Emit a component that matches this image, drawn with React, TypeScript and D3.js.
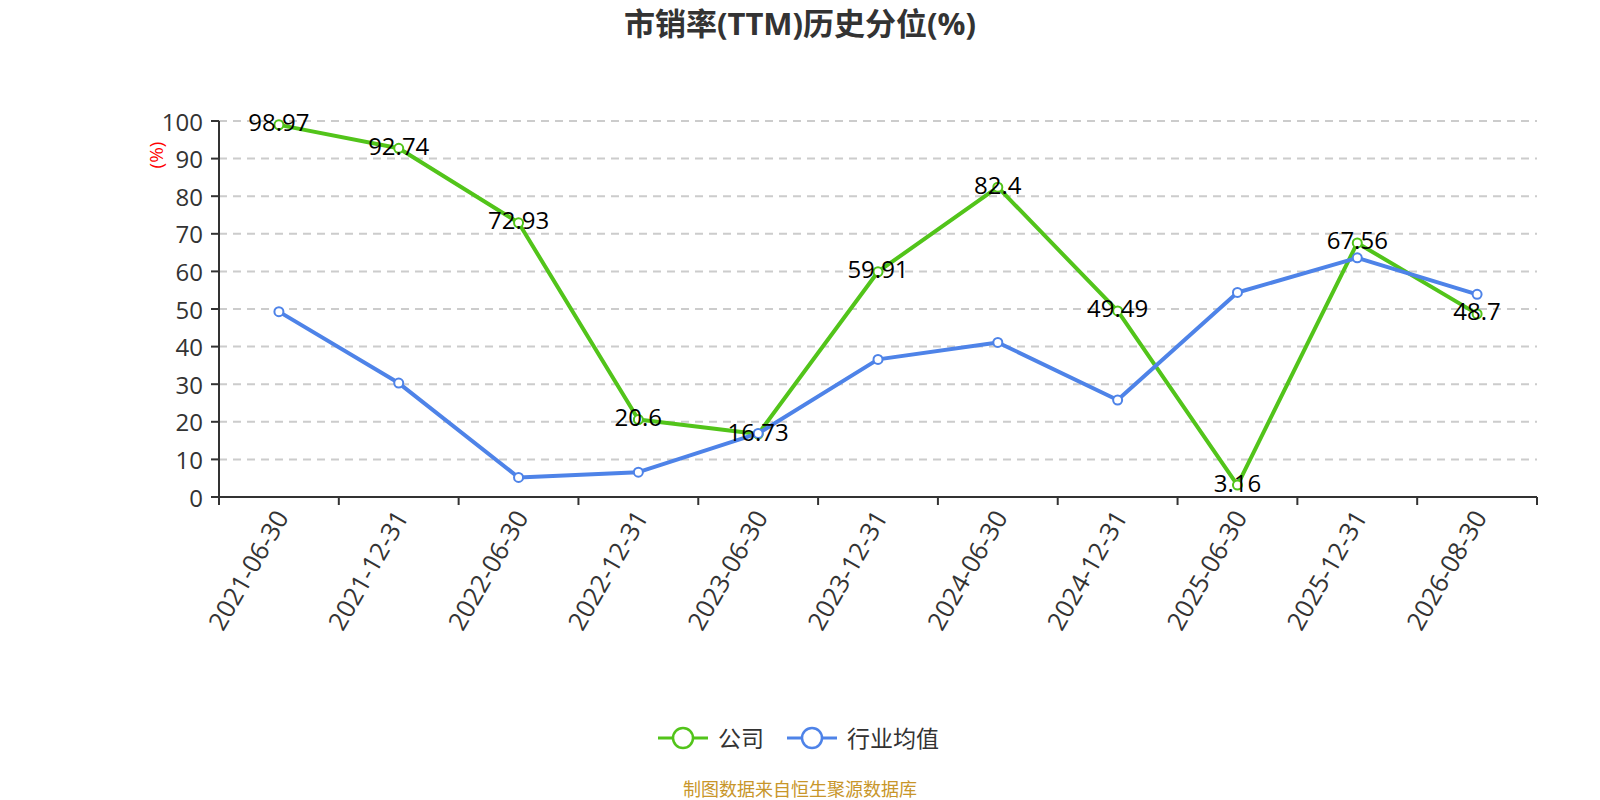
import { useRef, useEffect } from 'react';
import * as d3 from 'd3';

const categories = [
  '2021-06-30', '2021-12-31', '2022-06-30', '2022-12-31', '2023-06-30', '2023-12-31',
  '2024-06-30', '2024-12-31', '2025-06-30', '2025-12-31', '2026-08-30',
];
const companyValues = [98.97, 92.74, 72.93, 20.6, 16.73, 59.91, 82.4, 49.49, 3.16, 67.56, 48.7];
const industryValues = [49.3, 30.3, 5.2, 6.6, 16.9, 36.6, 41.1, 25.8, 54.4, 63.6, 53.9];
const yTicks = [0, 10, 20, 30, 40, 50, 60, 70, 80, 90, 100];
const seriesNames = ['公司', '行业均值'];
const seriesColors = ['#52c41a', '#4e83e8'];

const FONT = '"Open Sans", "Noto Sans CJK SC", sans-serif';

export default function App() {
  const svgRef = useRef<SVGSVGElement>(null);

  useEffect(() => {
    if (!svgRef.current) return;
    const svg = d3.select(svgRef.current);
    svg.selectAll('*').remove();

    const W = 1600, H = 800;
    const margin = { top: 121, right: 63, bottom: 303, left: 219 };
    const innerW = W - margin.left - margin.right;
    const innerH = H - margin.top - margin.bottom;

    svg.attr('width', W).attr('height', H).style('font-family', FONT);

    // Title
    svg.append('text')
      .attr('x', 800).attr('y', 23)
      .attr('text-anchor', 'middle').attr('dominant-baseline', 'central')
      .attr('font-size', 31).attr('font-weight', 'bold').attr('fill', '#333')
      .text('市销率(TTM)历史分位(%)');

    const g = svg.append('g').attr('transform', `translate(${margin.left},${margin.top})`);

    const x = d3.scaleBand<string>().domain(categories).range([0, innerW]);
    const y = d3.scaleLinear().domain([0, 100]).range([innerH, 0]);
    const cx = (c: string) => (x(c) ?? 0) + x.bandwidth() / 2;

    // Grid lines
    g.append('g').selectAll('line')
      .data(yTicks.filter(t => t > 0))
      .enter().append('line')
      .attr('x1', 0).attr('x2', innerW)
      .attr('y1', d => y(d)).attr('y2', d => y(d))
      .attr('stroke', '#cccccc').attr('stroke-width', 2)
      .attr('stroke-dasharray', '8,6');

    // Y axis
    g.append('line')
      .attr('x1', 0).attr('x2', 0).attr('y1', 0).attr('y2', innerH)
      .attr('stroke', '#333').attr('stroke-width', 2);
    const yt = g.append('g').selectAll('g').data(yTicks).enter().append('g');
    yt.append('line')
      .attr('x1', -8).attr('x2', 0)
      .attr('y1', d => y(d)).attr('y2', d => y(d))
      .attr('stroke', '#333').attr('stroke-width', 2);
    yt.append('text')
      .attr('x', -16).attr('y', d => y(d))
      .attr('text-anchor', 'end').attr('dominant-baseline', 'central')
      .attr('font-size', 24).attr('fill', '#333')
      .text(d => d);

    // Y axis unit
    svg.append('text')
      .attr('transform', 'translate(156,155) rotate(-90)')
      .attr('text-anchor', 'middle').attr('dominant-baseline', 'central')
      .attr('font-size', 19).attr('fill', 'red')
      .text('(%)');

    // X axis
    g.append('line')
      .attr('x1', 0).attr('x2', innerW).attr('y1', innerH).attr('y2', innerH)
      .attr('stroke', '#333').attr('stroke-width', 2);
    const bounds = categories.map(c => x(c) ?? 0).concat([innerW]);
    g.append('g').selectAll('line').data(bounds).enter().append('line')
      .attr('x1', d => d).attr('x2', d => d)
      .attr('y1', innerH).attr('y2', innerH + 8)
      .attr('stroke', '#333').attr('stroke-width', 2);
    g.append('g').selectAll('text').data(categories).enter().append('text')
      .attr('transform', d => `translate(${cx(d) + 2},${innerH + 15}) rotate(-60)`)
      .attr('text-anchor', 'end').attr('dominant-baseline', 'central')
      .attr('font-size', 25.5).attr('fill', '#333')
      .text(d => d);

    const line = d3.line<number>()
      .x((_, i) => cx(categories[i]))
      .y(d => y(d));

    [companyValues, industryValues].forEach((vals, si) => {
      g.append('path')
        .datum(vals)
        .attr('d', line)
        .attr('fill', 'none')
        .attr('stroke', seriesColors[si])
        .attr('stroke-width', 4)
        .attr('stroke-linejoin', 'round');
      g.append('g').selectAll('circle').data(vals).enter().append('circle')
        .attr('cx', (_, i) => cx(categories[i]))
        .attr('cy', d => y(d))
        .attr('r', 4.5)
        .attr('fill', '#fff')
        .attr('stroke', seriesColors[si])
        .attr('stroke-width', 2);
    });

    // Company value labels
    g.append('g').selectAll('text').data(companyValues).enter().append('text')
      .attr('x', (_, i) => cx(categories[i]))
      .attr('y', d => y(d) - 3)
      .attr('text-anchor', 'middle').attr('dominant-baseline', 'central')
      .attr('font-size', 24).attr('fill', '#000')
      .text(d => String(d));

    // Legend
    const legendY = 738;
    const legendX = [658, 787];
    seriesNames.forEach((name, i) => {
      const lg = svg.append('g').attr('transform', `translate(${legendX[i]},${legendY})`);
      lg.append('line')
        .attr('x1', 0).attr('x2', 50).attr('y1', 0).attr('y2', 0)
        .attr('stroke', seriesColors[i]).attr('stroke-width', 3);
      lg.append('circle')
        .attr('cx', 25).attr('cy', 0).attr('r', 10)
        .attr('fill', '#fff').attr('stroke', seriesColors[i]).attr('stroke-width', 2.5);
      lg.append('text')
        .attr('x', 60).attr('y', 0)
        .attr('dominant-baseline', 'central')
        .attr('font-size', 23).attr('fill', '#333')
        .text(name);
    });

    // Source note
    svg.append('text')
      .attr('x', 800).attr('y', 789)
      .attr('text-anchor', 'middle').attr('dominant-baseline', 'central')
      .attr('font-size', 18).attr('fill', '#c8962a')
      .text('制图数据来自恒生聚源数据库');
  }, []);

  return (
    <svg ref={svgRef} style={{ position: 'absolute', left: 0, top: 0, background: '#fff' }} />
  );
}
